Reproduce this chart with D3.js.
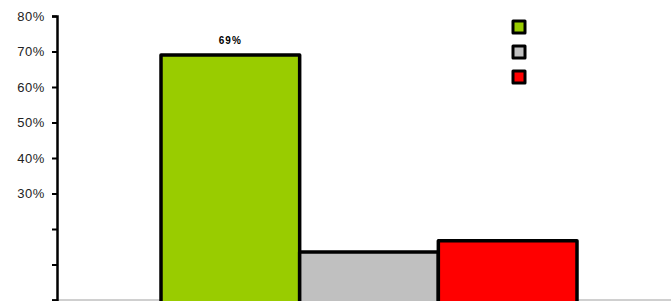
<!DOCTYPE html>
<html>
<head>
<meta charset="utf-8">
<script src="https://cdn.jsdelivr.net/npm/d3@7"></script>
<style>
  body { margin: 0; background: #fff; }
  svg { display: block; }
</style>
</head>
<body>
<script>
var categories = ["Group 1", "Group 2", "Group 3"];
var values = [0.69, 0.135, 0.167];
var colors = ["#99cc00", "#c0c0c0", "#ff0000"];
var barLabels = ["69%", "", ""];
var tickValues = [0, 0.1, 0.2, 0.3, 0.4, 0.5, 0.6, 0.7, 0.8];
var tickLabels = ["", "", "", "30%", "40%", "50%", "60%", "70%", "80%"];

var width = 671;
var height = 301;
var margin = {left: 57, right: -10, top: 16, bottom: 1};

var svg = d3.select("body").append("svg").attr("width", width).attr("height", height);

var y = d3.scaleLinear()
    .domain([0, 0.8])
    .range([height - margin.bottom, margin.top]);

var x = d3.scaleBand()
    .domain(categories)
    .range([margin.left, width - margin.right])
    .paddingInner(0)
    .paddingOuter(0.75);

// baseline
svg.append("line")
    .attr("x1", margin.left)
    .attr("x2", width)
    .attr("y1", y(0))
    .attr("y2", y(0))
    .style("stroke", "#a0a0a0")
    .style("stroke-width", 1);

// bars
svg.selectAll("rect.bar")
    .data(values)
    .enter().append("rect")
    .attr("class", "bar")
    .attr("x", function(d, i) { return x(categories[i]); })
    .attr("y", function(d) { return y(d); })
    .attr("width", x.bandwidth())
    .attr("height", function(d) { return y(0) - y(d) + 4; })
    .style("fill", function(d, i) { return colors[i]; })
    .style("stroke", "#000")
    .style("stroke-width", 3.5)
    .style("stroke-linejoin", "round");

// bar labels
svg.selectAll("text.lbl")
    .data(values)
    .enter().append("text")
    .attr("class", "lbl")
    .attr("x", function(d, i) { return x(categories[i]) + x.bandwidth() / 2; })
    .attr("y", function(d) { return y(d) - 11; })
    .style("text-anchor", "middle")
    .style("font-family", "Liberation Sans, Arial, sans-serif")
    .style("font-size", "10px")
    .style("font-weight", "bold")
    .style("letter-spacing", "1px")
    .text(function(d, i) { return barLabels[i]; });

// y axis
var yAxis = d3.axisLeft(y)
    .tickValues(tickValues)
    .tickSize(5)
    .tickPadding(7)
    .tickFormat(function(d, i) { return tickLabels[i]; });

var gy = svg.append("g")
    .attr("transform", "translate(" + margin.left + ",0)")
    .call(yAxis);
gy.select(".domain").style("stroke", "#000").style("stroke-width", 2.5);
gy.selectAll(".tick line").style("stroke", "#000").style("stroke-width", 2);
gy.selectAll(".tick text")
    .style("font-family", "Liberation Sans, Arial, sans-serif")
    .style("font-size", "13px")
    .style("letter-spacing", "0.6px")
    .style("fill", "#222");

// legend (no labels)
svg.selectAll("rect.leg")
    .data(categories)
    .enter().append("rect")
    .attr("class", "leg")
    .attr("x", 513)
    .attr("y", function(d, i) { return 21 + i * 25; })
    .attr("width", 12)
    .attr("height", 12)
    .style("fill", function(d, i) { return colors[i]; })
    .style("stroke", "#000")
    .style("stroke-width", 3)
    .style("stroke-linejoin", "round");
</script>
</body>
</html>
